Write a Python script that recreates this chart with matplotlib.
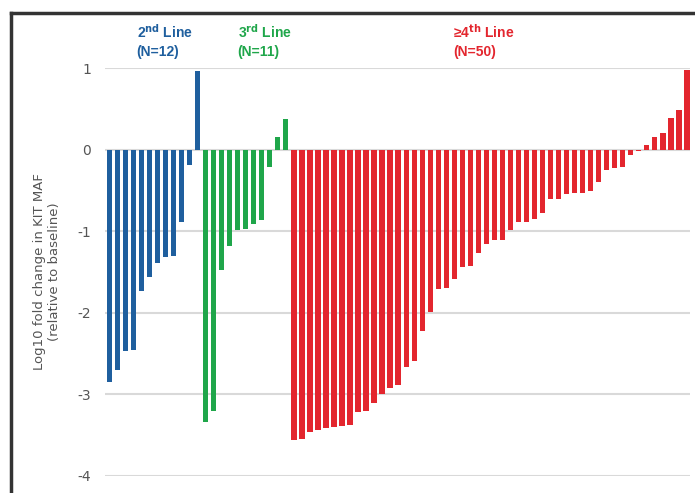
import matplotlib.pyplot as plt
from matplotlib.lines import Line2D

# valores (log10 fold change)
line2_vals = [-2.85, -2.70, -2.47, -2.45, -1.73, -1.56, -1.39, -1.32, -1.30,
              -0.89, -0.19, 0.96]
line3_vals = [-3.34, -3.20, -1.48, -1.18, -0.99, -0.97, -0.91, -0.86, -0.21,
              0.16, 0.38]
line4_vals = [-3.56, -3.55, -3.46, -3.44, -3.41, -3.40, -3.39, -3.38, -3.22, -3.20,
              -3.10, -2.99, -2.92, -2.89, -2.66, -2.59, -2.22, -1.99, -1.71, -1.70,
              -1.58, -1.44, -1.43, -1.27, -1.16, -1.11, -1.11, -0.99, -0.89, -0.89,
              -0.85, -0.78, -0.61, -0.61, -0.54, -0.53, -0.53, -0.51, -0.40, -0.25,
              -0.23, -0.21, -0.06, -0.02, 0.06, 0.15, 0.20, 0.39, 0.49, 0.97]

group_names = [r"2$^{\mathbf{nd}}$ Line", r"3$^{\mathbf{rd}}$ Line", r"≥4$^{\mathbf{th}}$ Line"]
group_n = ["(N=12)", "(N=11)", "(N=50)"]
group_colors = ["#1f5f9e", "#1fa64a", "#e3262e"]
label_x = [3.4, 16.0, 42.9]
yticks = [1, 0, -1, -2, -3, -4]

fig = plt.figure(figsize=(6.95, 4.93), dpi=100)
ax = fig.add_axes([0.151, 0.0345, 0.842, 0.8275])

groups = [line2_vals, line3_vals, line4_vals]
start = 0
for vals, color, name, n, lx in zip(groups, group_colors, group_names, group_n, label_x):
    xs = list(range(start, start + len(vals)))
    ax.bar(xs, vals, width=0.66, color=color, zorder=3)
    # etiqueta del grupo arriba
    ax.text(lx, 1.45, name, color=color, ha="left", va="center",
            fontsize=10, fontweight="bold", family=["Liberation Sans", "DejaVu Sans"])
    ax.text(lx, 1.2, n, color=color, ha="left", va="center",
            fontsize=10, fontweight="bold", family=["Liberation Sans", "DejaVu Sans"])
    start += len(vals)

ax.set_xlim(-0.55, 72.4)
ax.set_ylim(-4, 1)
ax.set_yticks(yticks)
ax.set_yticklabels([str(t) for t in yticks], color="#555555", fontsize=10)
ax.set_xticks([])
ax.tick_params(axis="y", length=0, pad=10)
for s in ax.spines.values():
    s.set_visible(False)
ax.grid(axis="y", color="#d9d9d9", linewidth=1.5, zorder=0)
ax.set_ylabel("Log10 fold change in KIT MAF\n(relative to baseline)", color="#555555",
              fontsize=9.5, labelpad=12)

# marco exterior (arriba e izquierda)
fig.add_artist(Line2D([0.016, 1.0], [0.974, 0.974], color="#333333", lw=2.5,
                      transform=fig.transFigure))
fig.add_artist(Line2D([0.016, 0.016], [0.0, 0.974], color="#333333", lw=2.5,
                      transform=fig.transFigure))

fig.savefig("out.png", dpi=100)
